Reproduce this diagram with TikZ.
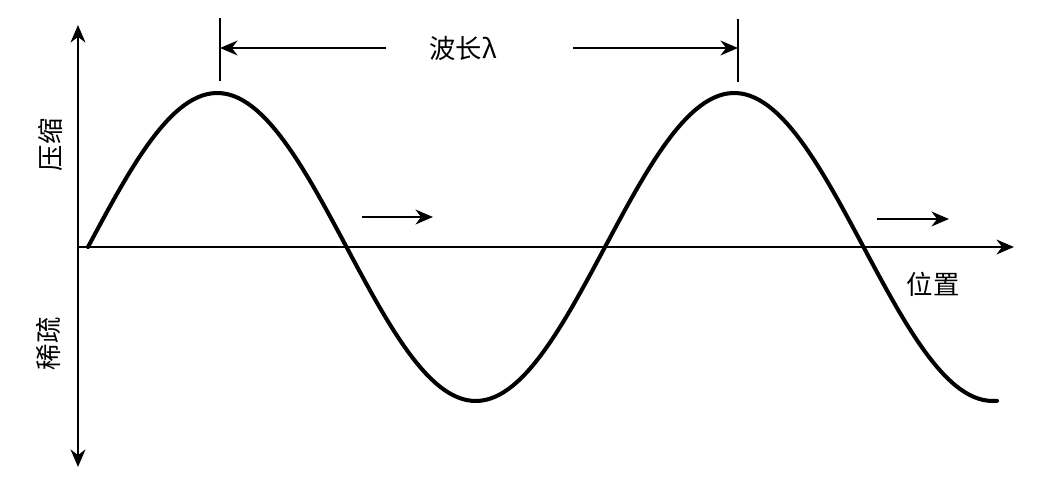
\documentclass[tikz,border=0pt]{standalone}
\usepackage{fontspec}
\newfontfamily\cjk{Noto Sans CJK SC}
\usepackage{tikz}
\usetikzlibrary{positioning,arrows.meta}

\tikzset{
	axis/.style={line width=1.1pt},
	wave/.style={line width=2.3pt, line cap=round},
	lbl/.style={font=\cjk\fontsize{15}{17}\selectfont, inner sep=0pt},
	tickline/.style={line width=1.1pt}
}

\begin{document}
\begin{tikzpicture}[x=0.02cm, y=-0.02cm, >={Stealth[length=10pt,width=8.5pt]}]
		\useasboundingbox (0,0) rectangle (1046,489);
		
		% axes
		\coordinate (O) at (78,247);
		\coordinate (ytop) at (78,25);
		\coordinate (ybot) at (78,467);
		\coordinate (xend) at (1014,247);
		\draw[axis,->] (O) -- (ytop);
		\draw[axis,->] (O) -- (ybot);
		\draw[axis,->] (O) -- (xend);
		
		% labels
		\node[lbl, rotate=90] (comp) at (50,145) {压缩};
		\node[lbl, rotate=90] (rare) at (48,344) {稀疏};
		\node[lbl] (pos) at (933,284) {位置};
		\node[lbl] (wl) at (463,49) {波长λ};
		
		% wave
		\draw[wave] plot[domain=88:997, samples=200] (\x, {247-154*sin((\x-88)*0.696325)});
		
		% wavelength
		\coordinate (tLtop) at (220,18);
		\coordinate (tLbot) at (220,81);
		\coordinate (tRtop) at (738,19);
		\coordinate (tRbot) at (738,82);
		\draw[tickline] (tLtop) -- (tLbot);
		\draw[tickline] (tRtop) -- (tRbot);
		\coordinate (wlL) at (386,48);
		\coordinate (wlR) at (573,48);
		\draw[axis,->] (wlL) -- (tLtop |- wlL);
		\draw[axis,->] (wlR) -- (tRtop |- wlR);
		
		% direction of travel
		\coordinate (m1a) at (362,217);
		\coordinate (m1b) at (433,217);
		\coordinate (m2a) at (877,219);
		\coordinate (m2b) at (949,219);
		\draw[axis,->] (m1a) -- (m1b);
		\draw[axis,->] (m2a) -- (m2b);
		
	\end{tikzpicture}
\end{document}
